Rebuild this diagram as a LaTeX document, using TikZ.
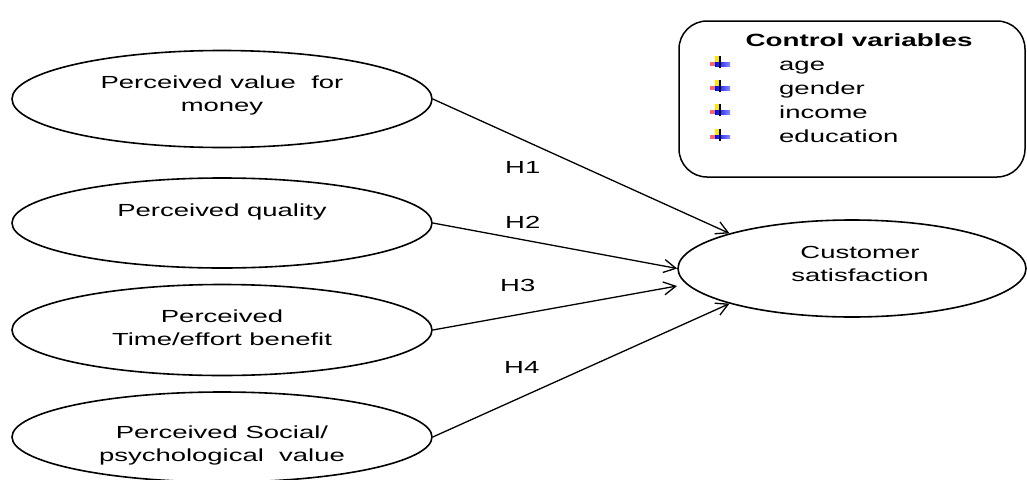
\documentclass[tikz,border=0pt]{standalone}
\usepackage{fontspec}
\setmainfont{Liberation Sans}
\usetikzlibrary{arrows.meta,shapes.geometric}
\newcommand\sx[1]{\scalebox{1.57}[1]{#1}}
\tikzset{
  oval/.style={draw,ellipse,line width=1.6pt,inner sep=0pt},
  lbl/.style={font=\fontsize{17.5}{23}\selectfont,align=center,inner sep=0pt},
  hyp/.style={font=\fontsize{17.5}{21}\selectfont,inner sep=0pt,anchor=base west},
  itemtxt/.style={font=\fontsize{17.5}{21}\selectfont,inner sep=0pt,anchor=base west},
  conn/.style={line width=1.3pt,-{Straight Barb[length=12pt,width=13pt]}},
  cvbullet/.pic={
    \fill[yellow!90!orange] (-5,-6) rectangle (1,0);
    \fill[red!60] (-10,0) rectangle (-3,4);
    \shade[left color=blue,right color=blue!45] (-5,0.5) rectangle (10,4);
    \draw[line width=1.1pt] (0,-6) -- (0,6);
  }
}
\begin{document}
\begin{tikzpicture}[x=1pt,y=-1pt]
\useasboundingbox (0,0) rectangle (1027,479);
\fill[white] (0,0) rectangle (1027,479);

% left ellipses
\node[oval,minimum width=420pt,minimum height=97pt] (e1) at (222,99) {};
\node[oval,minimum width=420pt,minimum height=90pt] (e2) at (222,223) {};
\node[oval,minimum width=420pt,minimum height=91pt] (e3) at (222,330) {};
\node[oval,minimum width=420pt,minimum height=90pt] (e4) at (222,437) {};

\node[lbl] (t1) at (222,95) {\sx{Perceived value\ \ for}\\\sx{money}};
\node[lbl] (t2) at (222,211.5) {\sx{Perceived quality}};
\node[lbl] (t3) at (222,328) {\sx{Perceived}\\\sx{Time/effort benefit}};
\node[lbl] (t4) at (222,445) {\sx{Perceived Social/}\\\sx{psychological\ \ value}};

% outcome
\node[oval,minimum width=348pt,minimum height=97pt] (cs) at (852,268.5) {};
\node[lbl] (tcs) at (860,264.3) {\sx{Customer}\\\sx{satisfaction}};

% control box
\node[draw,rounded corners=28pt,line width=1.5pt,minimum width=346pt,minimum height=156pt,inner sep=0pt] (ctrl) at (852,99) {};
\node[font=\fontsize{17.7}{21}\selectfont\bfseries,inner sep=0pt,anchor=base] (cvt) at (859,46) {\sx{Control variables}};
\node[itemtxt] (i1) at (779,70) {\sx{age}};
\node[itemtxt] (i2) at (779,94.2) {\sx{gender}};
\node[itemtxt] (i3) at (779,118.4) {\sx{income}};
\node[itemtxt] (i4) at (779,142.6) {\sx{education}};
\pic at (720,62) {cvbullet};
\pic at (720,86.2) {cvbullet};
\pic at (720,110.4) {cvbullet};
\pic at (720,134.6) {cvbullet};

% connectors
\coordinate (c3) at (677,286);
\draw[conn] (e1.east) -- (cs.164);
\draw[conn] (e2.east) -- (cs.west);
\draw[conn] (e3.east) -- (c3);
\draw[conn] (e4.east) -- (cs.196);

% hypothesis labels
\node[hyp] (h1) at (505,173.3) {\sx{H1}};
\node[hyp] (h2) at (505,228) {\sx{H2}};
\node[hyp] (h3) at (500,291.7) {\sx{H3}};
\node[hyp] (h4) at (504,373) {\sx{H4}};
\end{tikzpicture}
\end{document}
